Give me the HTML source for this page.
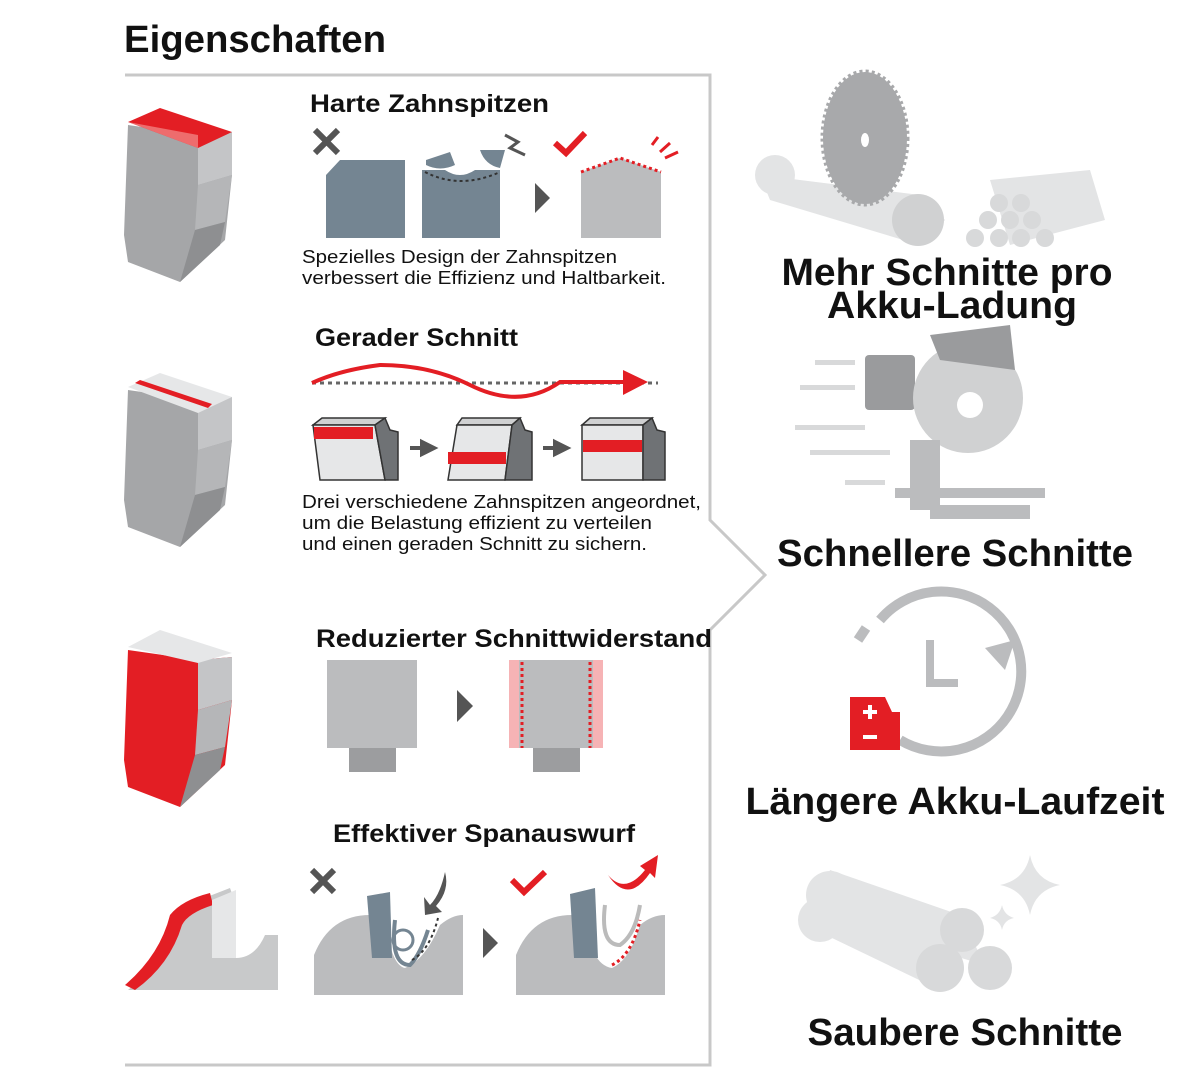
<!DOCTYPE html>
<html><head><meta charset="utf-8"><style>
html,body{margin:0;padding:0;background:#fff}
svg{display:block}
text{font-family:"Liberation Sans",sans-serif}
.h{font-weight:bold;font-size:25px;fill:#111}
.d{font-size:18px;fill:#111}
.r{font-weight:bold;font-size:38px;fill:#111;text-anchor:middle}
</style></head><body>
<svg width="1200" height="1091" viewBox="0 0 1200 1091">
<text x="124" y="52" font-weight="bold" font-size="38" fill="#111" textLength="262" lengthAdjust="spacingAndGlyphs">Eigenschaften</text>
<polyline points="125,75 710,75 710,520 765,575 710,630 710,1065 125,1065" fill="none" stroke="#c8c8c8" stroke-width="3"/>

<g>
<path d="M128,125 L198,135 L232,132 L232,175 L225,240 L180,282 L128,262 L124,235 Z" fill="#a5a6a8"/>
<path d="M198,135 L232,132 L232,175 L198,185 Z" fill="#c4c5c7"/>
<path d="M198,185 L232,175 L225,222 L195,230 Z" fill="#b5b6b8"/>
<path d="M195,230 L225,222 L220,245 L180,282 Z" fill="#8e8f91"/>
<path d="M128,122 L160,108 L232,132 L198,148 Z" fill="#e31e24"/>
<path d="M128,122 L198,148 L198,135 Z" fill="#f08080" opacity=".8"/>
</g>
<g transform="translate(0,265)">
<path d="M128,125 L198,135 L232,132 L232,175 L225,240 L180,282 L128,262 L124,235 Z" fill="#a5a6a8"/>
<path d="M198,135 L232,132 L232,175 L198,185 Z" fill="#c4c5c7"/>
<path d="M198,185 L232,175 L225,222 L195,230 Z" fill="#b5b6b8"/>
<path d="M195,230 L225,222 L220,245 L180,282 Z" fill="#8e8f91"/>
<path d="M128,122 L160,108 L232,132 L198,148 Z" fill="#e6e7e8"/>
<path d="M135,118 L208,143 L212,139 L140,115 Z" fill="#e31e24"/>
</g>
<g transform="translate(0,525)">
<path d="M128,125 L198,135 L232,132 L232,175 L225,240 L180,282 L128,262 L124,235 Z" fill="#e31e24"/>
<path d="M198,135 L232,132 L232,175 L198,185 Z" fill="#c4c5c7"/>
<path d="M198,185 L232,175 L225,222 L195,230 Z" fill="#b5b6b8"/>
<path d="M195,230 L225,222 L220,245 L180,282 Z" fill="#8e8f91"/>
<path d="M128,122 L160,105 L232,128 L198,138 Z" fill="#e6e7e8"/>
</g>
<path d="M128,990 Q165,960 175,920 Q185,905 212,895 L230,888 L236,905 L236,990 Z" fill="#c8c9ca"/>
<path d="M125,985 Q160,955 170,915 Q182,900 210,893 L213,905 Q188,913 182,925 Q170,965 135,990 Z" fill="#e31e24"/>
<path d="M212,900 L236,890 L236,958 L212,958 Z" fill="#e6e7e8"/>
<path d="M236,958 Q255,958 265,935 L278,935 L278,990 L236,990 Z" fill="#c8c9ca"/>

<text x="310" y="112" class="h" textLength="239" lengthAdjust="spacingAndGlyphs">Harte Zahnspitzen</text>
<path d="M315,130 L338,153 M338,130 L315,153" stroke="#555" stroke-width="6"/>
<path d="M340,160 L405,160 L405,238 L326,238 L326,175 Z" fill="#748592"/>
<path d="M422,170 L445,170 Q460,180 475,170 L500,170 L500,238 L422,238 Z" fill="#748592"/>
<path d="M426,160 L450,152 L455,165 Q440,172 426,165Z M480,150 L505,150 L500,168 Q485,165 480,150Z" fill="#748592"/>
<path d="M425,172 Q460,190 500,172" stroke="#333" stroke-width="2" stroke-dasharray="3,3" fill="none"/>
<path d="M505,135 L518,142 L510,148 L525,155" stroke="#555" stroke-width="3" fill="none"/>
<path d="M535,183 L550,198 L535,213 Z" fill="#555"/>
<path d="M581,172 L620,158 L661,172 L661,238 L581,238 Z" fill="#bbbcbe"/>
<path d="M581,172 L620,158 L661,172" stroke="#e31e24" stroke-width="3" stroke-dasharray="3,3" fill="none"/>
<path d="M555,143 L566,153 L585,133" stroke="#e31e24" stroke-width="6" fill="none"/>
<path d="M652,145 L658,137 M660,152 L670,143 M665,158 L678,152" stroke="#e31e24" stroke-width="3"/>
<text x="302" y="263" class="d" textLength="315" lengthAdjust="spacingAndGlyphs">Spezielles Design der Zahnspitzen</text>
<text x="302" y="284" class="d" textLength="364" lengthAdjust="spacingAndGlyphs">verbessert die Effizienz und Haltbarkeit.</text>

<text x="315" y="346" class="h" textLength="203" lengthAdjust="spacingAndGlyphs">Gerader Schnitt</text>
<line x1="312" y1="383" x2="658" y2="383" stroke="#666" stroke-width="3" stroke-dasharray="4,4"/>
<path d="M312,383 Q340,370 380,365 Q430,365 470,385 Q520,410 560,382 L625,382" stroke="#e31e24" stroke-width="4" fill="none"/>
<path d="M623,370 L648,382 L623,395 Z" fill="#e31e24"/>
<path d="M313,425 L375,425 L385,418 L322,418 Z" fill="#d0d1d2" stroke="#333" stroke-width="1.5"/>
<path d="M313,425 L375,425 L385,480 L320,480 Z" fill="#e6e7e8" stroke="#333" stroke-width="1.5"/>
<path d="M375,425 L385,418 L390,430 L398,432 L398,480 L385,480 Z" fill="#6f7275" stroke="#333" stroke-width="1.5"/>
<rect x="314" y="427" width="59" height="12" fill="#e31e24"/>
<path d="M410,448 L425,448 M422,442 L434,448 L422,454 Z" stroke="#555" stroke-width="4" fill="#555"/>
<path d="M457,425 L512,425 L520,418 L462,418 Z" fill="#d0d1d2" stroke="#333" stroke-width="1.5"/>
<path d="M457,425 L512,425 L505,480 L448,480 Z" fill="#e6e7e8" stroke="#333" stroke-width="1.5"/>
<path d="M512,425 L520,418 L525,430 L532,432 L532,480 L505,480 Z" fill="#6f7275" stroke="#333" stroke-width="1.5"/>
<rect x="448" y="452" width="58" height="12" fill="#e31e24"/>
<path d="M543,448 L558,448 M555,442 L567,448 L555,454 Z" stroke="#555" stroke-width="4" fill="#555"/>
<path d="M582,425 L643,425 L652,418 L590,418 Z" fill="#d0d1d2" stroke="#333" stroke-width="1.5"/>
<path d="M582,425 L643,425 L643,480 L582,480 Z" fill="#e6e7e8" stroke="#333" stroke-width="1.5"/>
<path d="M643,425 L652,418 L657,430 L665,432 L665,480 L643,480 Z" fill="#6f7275" stroke="#333" stroke-width="1.5"/>
<rect x="583" y="440" width="59" height="12" fill="#e31e24"/>
<text x="302" y="508" class="d" textLength="399" lengthAdjust="spacingAndGlyphs">Drei verschiedene Zahnspitzen angeordnet,</text>
<text x="302" y="529" class="d" textLength="350" lengthAdjust="spacingAndGlyphs">um die Belastung effizient zu verteilen</text>
<text x="302" y="550" class="d" textLength="345" lengthAdjust="spacingAndGlyphs">und einen geraden Schnitt zu sichern.</text>

<text x="316" y="647" class="h" textLength="396" lengthAdjust="spacingAndGlyphs">Reduzierter Schnittwiderstand</text>
<rect x="327" y="660" width="90" height="88" fill="#bbbcbe"/>
<rect x="349" y="748" width="47" height="24" fill="#9c9d9f"/>
<path d="M457,690 L473,706 L457,722 Z" fill="#555"/>
<rect x="509" y="660" width="94" height="88" fill="#f6b3b5"/>
<rect x="519" y="660" width="74" height="88" fill="#bbbcbe"/>
<rect x="533" y="748" width="47" height="24" fill="#9c9d9f"/>
<line x1="522" y1="662" x2="522" y2="748" stroke="#e31e24" stroke-width="3" stroke-dasharray="3,3"/>
<line x1="590" y1="662" x2="590" y2="748" stroke="#e31e24" stroke-width="3" stroke-dasharray="3,3"/>

<text x="333" y="842" class="h" textLength="302" lengthAdjust="spacingAndGlyphs">Effektiver Spanauswurf</text>
<path d="M312,870 L334,892 M334,870 L312,892" stroke="#555" stroke-width="6"/>
<path d="M314,995 L314,955 Q330,915 370,915 L385,915 Q390,965 405,968 Q425,960 440,925 Q452,915 463,915 L463,995 Z" fill="#bbbcbe"/>
<path d="M367,896 L390,892 L392,958 L372,958 Z" fill="#748592"/>
<path d="M395,920 Q390,965 410,965 Q420,955 428,930" stroke="#748592" stroke-width="4" fill="none"/>
<circle cx="403" cy="940" r="10" fill="none" stroke="#748592" stroke-width="3"/>
<path d="M412,960 Q430,950 438,918" stroke="#333" stroke-width="2" stroke-dasharray="3,3" fill="none"/>
<path d="M445,872 Q440,895 430,905 L424,897 L425,915 L442,912 L436,906 Q450,890 445,872 Z" fill="#555"/>
<path d="M483,928 L498,943 L483,958 Z" fill="#555"/>
<path d="M512,880 L524,892 L545,872" stroke="#e31e24" stroke-width="6" fill="none"/>
<path d="M516,995 L516,955 Q532,915 572,915 L585,915 Q590,965 612,968 Q630,960 640,925 Q652,915 665,915 L665,995 Z" fill="#bbbcbe"/>
<path d="M570,894 L595,888 L598,958 L574,958 Z" fill="#748592"/>
<path d="M605,905 Q600,945 620,945 Q635,935 640,905" stroke="#bbb" stroke-width="4" fill="#fff"/>
<path d="M612,965 Q632,955 640,920" stroke="#e31e24" stroke-width="3" stroke-dasharray="3,3" fill="none"/>
<path d="M608,875 Q625,895 645,870 L640,866 L658,855 L655,878 L650,873 Q628,905 608,875 Z" fill="#e31e24"/>

<!-- Right side -->
<g fill="#d8d9da">
<path d="M760,175 L920,195 L945,220 L920,245 L770,200 Z" fill="#e3e4e5"/>
<circle cx="775" cy="175" r="20" fill="#e3e4e5"/>
<circle cx="918" cy="220" r="26" fill="#d0d1d2"/>
<ellipse cx="865" cy="138" rx="42" ry="66" fill="#a8a9ab" stroke="#a8a9ab" stroke-width="5" stroke-dasharray="3,3"/>
<ellipse cx="865" cy="140" rx="4" ry="7" fill="#fff"/>
<path d="M990,180 L1090,170 L1105,220 L1010,245 Z" fill="#e3e4e5"/>
<circle cx="988" cy="220" r="9"/><circle cx="1010" cy="220" r="9"/><circle cx="1032" cy="220" r="9"/>
<circle cx="999" cy="203" r="9"/><circle cx="1021" cy="203" r="9"/><circle cx="975" cy="238" r="9"/>
<circle cx="999" cy="238" r="9"/><circle cx="1021" cy="238" r="9"/><circle cx="1045" cy="238" r="9"/>
</g>
<text x="947" y="285" class="r" textLength="331" lengthAdjust="spacingAndGlyphs">Mehr Schnitte pro</text>
<text x="952" y="318" class="r" textLength="250" lengthAdjust="spacingAndGlyphs">Akku-Ladung</text>

<g fill="#bbbcbe">
<rect x="865" y="355" width="50" height="55" rx="4" fill="#9a9b9d"/>
<circle cx="968" cy="398" r="55" fill="#d0d1d2"/>
<circle cx="970" cy="405" r="13" fill="#fff"/>
<path d="M930,335 L1010,325 L1015,370 L940,360 Z" fill="#9a9b9d"/>
<rect x="910" y="440" width="30" height="70"/>
<rect x="895" y="488" width="150" height="10"/>
<rect x="930" y="505" width="100" height="14"/>
<g fill="#d8d9da"><rect x="815" y="360" width="40" height="5"/><rect x="800" y="385" width="55" height="5"/><rect x="795" y="425" width="70" height="5"/><rect x="810" y="450" width="80" height="5"/><rect x="845" y="480" width="40" height="5"/></g>
</g>
<text x="955" y="566" class="r" textLength="356" lengthAdjust="spacingAndGlyphs">Schnellere Schnitte</text>

<path d="M880,620 A80,80 0 1 1 900,740" fill="none" stroke="#bbbcbe" stroke-width="10"/>
<path d="M858,640 L866,628" stroke="#bbbcbe" stroke-width="10"/>
<path d="M930,640 L930,683 L958,683" fill="none" stroke="#bbbcbe" stroke-width="8"/>
<path d="M985,648 L1015,640 L1005,670 Z" fill="#bbbcbe"/>
<path d="M850,697 L885,697 L892,712 L900,712 L900,750 L850,750 Z" fill="#e31e24"/>
<path d="M870,705 v14 M863,712 h14 M863,737 h14" stroke="#fff" stroke-width="4"/>
<text x="955" y="814" class="r" textLength="419" lengthAdjust="spacingAndGlyphs">Längere Akku-Laufzeit</text>

<g fill="#d8d9da">
<path d="M830,870 L960,915 L985,965 L815,915 Z" fill="#e3e4e5"/>
<path d="M810,900 L940,950 L940,990 L805,925 Z" fill="#e3e4e5"/>
<circle cx="830" cy="895" r="24" fill="#e3e4e5"/>
<circle cx="820" cy="920" r="22" fill="#e3e4e5"/>
<circle cx="962" cy="930" r="22"/>
<circle cx="940" cy="968" r="24"/>
<circle cx="990" cy="968" r="22"/>
<path d="M1030,855 Q1035,880 1060,885 Q1035,890 1030,915 Q1025,890 1000,885 Q1025,880 1030,855Z" fill="#e3e4e5"/>
<path d="M1002,905 Q1004,915 1014,918 Q1004,920 1002,930 Q1000,920 990,918 Q1000,915 1002,905Z" fill="#e3e4e5"/>
</g>
<text x="965" y="1045" class="r" textLength="315" lengthAdjust="spacingAndGlyphs">Saubere Schnitte</text>
</svg>
</body></html>
